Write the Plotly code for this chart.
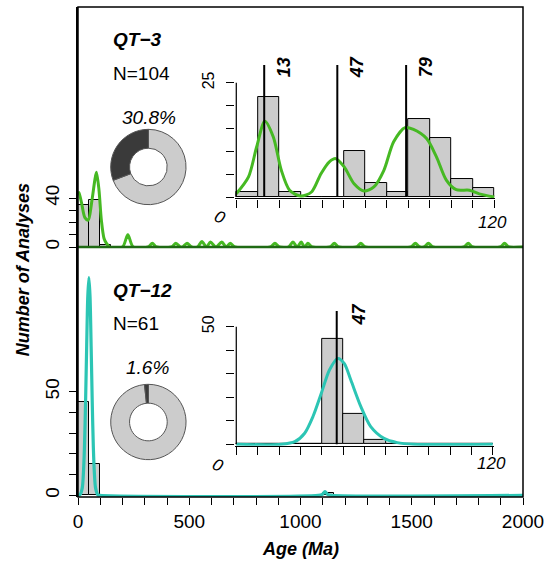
import plotly.graph_objects as go

# ---------------- data ----------------
# Main histograms (50 Ma bins)
qt3_bin_centers = [25, 75, 125]
qt3_bin_counts = [34, 38, 2]
qt12_bin_centers = [25, 75, 1125]
qt12_bin_counts = [45, 15, 1]

# Main KDE curves (Age Ma, density-scaled value)
qt3_kde_age = [0, 5, 16, 31, 46, 61, 76, 83, 94, 105, 117, 128, 143, 200, 224, 248,
               315, 334, 353, 420, 440, 460, 470, 490, 510, 537, 557, 577, 595, 620,
               646, 666, 684, 705, 865, 885, 905, 946, 966, 985, 1003, 1018, 1033, 1053,
               1132, 1152, 1172, 1251, 1271, 1291, 1496, 1516, 1536, 1555, 1575, 1595,
               1734, 1754, 1774, 1897, 1917, 1937, 2000]
qt3_kde_val = [45, 44, 36, 24, 22, 36, 55, 61, 47, 22, 7, 3, 0, 0, 10, 0,
               0, 3, 0, 0, 3, 0, 0, 3, 0, 0, 4.5, 0, 4, 0,
               4, 0, 3, 0, 0, 3, 0, 0, 4, 0, 4, 0, 3, 0,
               0, 3, 0, 0, 3, 0, 0, 3, 0, 0, 3, 0,
               0, 3, 0, 0, 3, 0, 0]
qt12_kde_age = [0, 9, 19, 24, 29, 34, 39, 44, 49, 54, 59, 64, 69, 74, 79, 89, 100,
                1080, 1098, 1110, 1122, 1140, 2000]
qt12_kde_val = [0, 0.3, 3.5, 10, 23, 45, 72, 96, 105, 96, 72, 45, 23, 10, 3.5, 0.3, 0,
                0, 0.5, 1.8, 0.5, 0, 0]

# Inset histograms (10 Ma bins, 0-120 Ma)
inset_bin_centers = [5, 15, 25, 35, 45, 55, 65, 75, 85, 95, 105, 115]
qt3_inset_counts = [1, 22, 1, 0, 0, 10, 3, 1, 17, 13, 4, 2]
qt12_inset_counts = [0, 0, 0, 0, 45, 13, 2, 0, 0, 0, 0, 0]

# Inset KDE curves
qt3_inset_age = [0, 5.7, 9.5, 13.3, 17.2, 21, 24.8, 30, 35, 39.4, 43.3, 46.3, 50.2, 54.8,
                 59.4, 64, 68.6, 73.2, 78.5, 82.4, 88.5, 93.1, 97.7, 102.3, 108.4, 113, 120]
qt3_inset_val = [0.7, 4.4, 11, 16.6, 13.2, 5.8, 1.5, 0.2, 1.1, 5.1, 7.7, 8.4, 6.6, 2.9,
                 1.3, 2.2, 5.8, 12.1, 15.2, 14.8, 12.8, 8.8, 3.7, 1.6, 1.5, 0.7, 0]
qt12_inset_age = [0, 21.2, 27.4, 32, 35.9, 39.8, 43.6, 47.5, 50.5, 53.6, 58.3, 62.9,
                  69.1, 75.3, 83, 120]
qt12_inset_val = [0, 0, 1.1, 4.7, 11.8, 21.7, 31.6, 36.5, 34.4, 27.3, 16, 7.5,
                  2.5, 0.7, 0, 0]

# Peak ages
qt3_peaks = [13, 47, 79]
qt12_peaks = [47]

# Donut fractions (young grains, old grains)
qt3_donut = [72, 32]
qt12_donut = [60, 1]
qt3_pct = "30.8%"
qt12_pct = "1.6%"
qt3_name, qt3_n = "QT\u22123", "N=104"
qt12_name, qt12_n = "QT\u221212", "N=61"

# ---------------- styling ----------------
GREEN = "#46b923"
DKGREEN = "#1f6a14"
TEAL = "#2cc5b4"
GRAY = "#cccccc"
DARK = "#3a3a3a"
FONT = "Liberation Sans, Arial, sans-serif"

fig = go.Figure()

# main histograms
fig.add_trace(go.Bar(x=qt3_bin_centers, y=qt3_bin_counts, width=50, xaxis="x", yaxis="y2",
                     marker=dict(color=GRAY, line=dict(color="black", width=1))))
fig.add_trace(go.Bar(x=qt12_bin_centers, y=qt12_bin_counts, width=50, xaxis="x", yaxis="y",
                     marker=dict(color=GRAY, line=dict(color="black", width=1))))
# main KDEs
fig.add_trace(go.Scatter(x=qt3_kde_age, y=qt3_kde_val, mode="lines", xaxis="x", yaxis="y2",
                         line=dict(color=GREEN, width=3, shape="spline", smoothing=0.8)))
fig.add_trace(go.Scatter(x=qt12_kde_age, y=qt12_kde_val, mode="lines", xaxis="x", yaxis="y",
                         line=dict(color=TEAL, width=3.2, shape="spline", smoothing=0.8)))

# insets
fig.add_trace(go.Bar(x=inset_bin_centers, y=qt3_inset_counts, width=10, xaxis="x3", yaxis="y3",
                     marker=dict(color=GRAY, line=dict(color="black", width=1))))
fig.add_trace(go.Scatter(x=qt3_inset_age, y=qt3_inset_val, mode="lines", xaxis="x3", yaxis="y3",
                         line=dict(color=GREEN, width=3, shape="spline", smoothing=0.8)))
fig.add_trace(go.Bar(x=inset_bin_centers, y=qt12_inset_counts, width=10, xaxis="x4", yaxis="y4",
                     marker=dict(color=GRAY, line=dict(color="black", width=1))))
fig.add_trace(go.Scatter(x=qt12_inset_age, y=qt12_inset_val, mode="lines", xaxis="x4", yaxis="y4",
                         line=dict(color=TEAL, width=3, shape="spline", smoothing=0.8)))

# donuts
for vals, dom in [(qt3_donut, dict(x=[0.0735, 0.2428], y=[0.5959, 0.7510])),
                  (qt12_donut, dict(x=[0.0735, 0.2428], y=[0.0755, 0.2306]))]:
    fig.add_trace(go.Pie(values=vals, hole=0.5, sort=False, direction="clockwise",
                         rotation=0, textinfo="none", hoverinfo="skip", domain=dom,
                         marker=dict(colors=[GRAY, DARK], line=dict(color="#555555", width=1))))

shapes = []
annotations = []

# peak lines and labels in insets
TOP3 = 28.9
TOP4 = 56.7
for p in qt3_peaks:
    shapes.append(dict(type="line", xref="x3", yref="y3", x0=p, x1=p, y0=0, y1=TOP3,
                       line=dict(color="black", width=2)))
    annotations.append(dict(xref="x3", yref="y3", x=p, y=TOP3, text="<b><i>%d</i></b>" % p,
                            textangle=-90, showarrow=False, xshift=20, yshift=-2,
                            xanchor="center", yanchor="middle",
                            font=dict(size=18, color="black", family=FONT)))
for p in qt12_peaks:
    shapes.append(dict(type="line", xref="x4", yref="y4", x0=p, x1=p, y0=0, y1=TOP4,
                       line=dict(color="black", width=2)))
    annotations.append(dict(xref="x4", yref="y4", x=p, y=TOP4, text="<b><i>%d</i></b>" % p,
                            textangle=-90, showarrow=False, xshift=22, yshift=-4,
                            xanchor="center", yanchor="middle",
                            font=dict(size=18, color="black", family=FONT)))

# inset y axis lines (0..top tick)
shapes.append(dict(type="line", xref="x3", yref="y3", x0=0, x1=0, y0=0, y1=25,
                   line=dict(color="black", width=1.3)))
shapes.append(dict(type="line", xref="x4", yref="y4", x0=0, x1=0, y0=0, y1=50,
                   line=dict(color="black", width=1.3)))

# inset x labels
for xa, ya, s0, s120 in [("x3", "y3", (-16, -20), (-2, -25)), ("x4", "y4", (-18, -21), (-1, -19))]:
    annotations.append(dict(xref=xa, yref=ya, x=0, y=0, text="<i>0</i>", showarrow=False,
                            xshift=s0[0], yshift=s0[1], textangle=25,
                            xanchor="center", yanchor="middle",
                            font=dict(size=17, color="black", family=FONT)))
    annotations.append(dict(xref=xa, yref=ya, x=120, y=0, text="<i>120</i>", showarrow=False,
                            xshift=s120[0], yshift=s120[1],
                            xanchor="center", yanchor="middle",
                            font=dict(size=17, color="black", family=FONT)))

# top panel dark baseline
shapes.append(dict(type="line", xref="paper", yref="y2 domain", x0=0, x1=1, y0=0, y1=0,
                   line=dict(color=DKGREEN, width=2.5)))
# frame
shapes.append(dict(type="rect", xref="paper", yref="paper", x0=0, x1=1, y0=0, y1=1,
                   line=dict(color="black", width=1.5), layer="above"))

# panel texts
txt = [
    (qt3_name, 0.0735, 0.9327, "left", "<b><i>%s</i></b>"),
    (qt3_n, 0.0735, 0.8653, "left", "%s"),
    (qt3_pct, 0.1604, 0.7755, "center", "<i>%s</i>"),
    (qt12_name, 0.0735, 0.4224, "left", "<b><i>%s</i></b>"),
    (qt12_n, 0.0735, 0.3551, "left", "%s"),
    (qt12_pct, 0.1559, 0.2633, "center", "<i>%s</i>"),
]
for t, x, y, xa, fmt in txt:
    annotations.append(dict(xref="paper", yref="paper", x=x, y=y, text=fmt % t, showarrow=False,
                            xanchor=xa, yanchor="middle",
                            font=dict(size=19, color="black", family=FONT)))

annotations.append(dict(xref="paper", yref="paper", x=-0.123, y=0.4633, textangle=-90,
                        xanchor="center", yanchor="middle",
                        text="<b><i>Number of Analyses</i></b>", showarrow=False,
                        font=dict(size=18, color="black", family=FONT)))
annotations.append(dict(xref="paper", yref="paper", x=0.4989, y=-0.1061,
                        xanchor="center", yanchor="middle",
                        text="<b><i>Age (Ma)</i></b>", showarrow=False,
                        font=dict(size=18, color="black", family=FONT)))

x_ticks = list(range(0, 2001, 100))
x_text = [str(v) if v % 500 == 0 else "" for v in x_ticks]

axis_common = dict(showgrid=False, zeroline=False, ticks="outside", tickcolor="black",
                   tickwidth=1, color="black", tickfont=dict(size=19, family=FONT, color="black"))

fig.update_layout(
    width=551, height=568,
    margin=dict(l=78, r=24, t=7, b=71),
    paper_bgcolor="white", plot_bgcolor="rgba(0,0,0,0)",
    showlegend=False, bargap=0,
    font=dict(family=FONT, color="black"),
    xaxis=dict(domain=[0, 1], range=[0, 2000], anchor="y", tickvals=x_ticks, ticktext=x_text,
               ticklen=7, showline=False, **axis_common),
    yaxis=dict(domain=[0, 0.5102], range=[-0.8, 119.8], anchor="x",
               tickvals=[0, 10, 20, 30, 40, 50], ticktext=["0", "", "", "", "", "50"],
               tickangle=-90, ticklen=7, showline=True, linecolor="black", linewidth=1.5,
               ticklabelstandoff=3, **axis_common),
    yaxis2=dict(domain=[0.5102, 1], range=[0, 195.9], anchor="x",
                tickvals=[0, 10, 20, 30, 40], ticktext=["0", "", "", "", "40"],
                tickangle=-90, ticklen=7, showline=True, linecolor="black", linewidth=1.5,
                ticklabelstandoff=3, **axis_common),
    xaxis3=dict(domain=[0.3532, 0.9379], range=[-0.5, 120.5], anchor="y3",
                tickvals=list(range(0, 121, 10)), showticklabels=False, ticklen=8,
                showline=True, linecolor="black", linewidth=1.3, showgrid=False, zeroline=False,
                ticks="outside", tickcolor="black"),
    yaxis3=dict(domain=[0.6094, 0.8816], range=[-0.3, 28.9], anchor="x3",
                tickvals=[0, 5, 10, 15, 20, 25], ticktext=["", "", "", "", "", "25"],
                tickangle=-90, ticklen=8, ticklabelstandoff=6, showline=False,
                showgrid=False, zeroline=False, ticks="outside", tickcolor="black",
                tickfont=dict(size=16, family=FONT, color="black")),
    xaxis4=dict(domain=[0.3532, 0.9345], range=[-0.5, 120.5], anchor="y4",
                tickvals=list(range(0, 121, 10)), showticklabels=False, ticklen=8,
                showline=True, linecolor="black", linewidth=1.3, showgrid=False, zeroline=False,
                ticks="outside", tickcolor="black"),
    yaxis4=dict(domain=[0.1047, 0.3798], range=[-0.6, 56.7], anchor="x4",
                tickvals=[0, 10, 20, 30, 40, 50], ticktext=["", "", "", "", "", "50"],
                tickangle=-90, ticklen=8, ticklabelstandoff=6, showline=False,
                showgrid=False, zeroline=False, ticks="outside", tickcolor="black",
                tickfont=dict(size=16, family=FONT, color="black")),
    shapes=shapes, annotations=annotations,
)

fig.write_html("out.html")
